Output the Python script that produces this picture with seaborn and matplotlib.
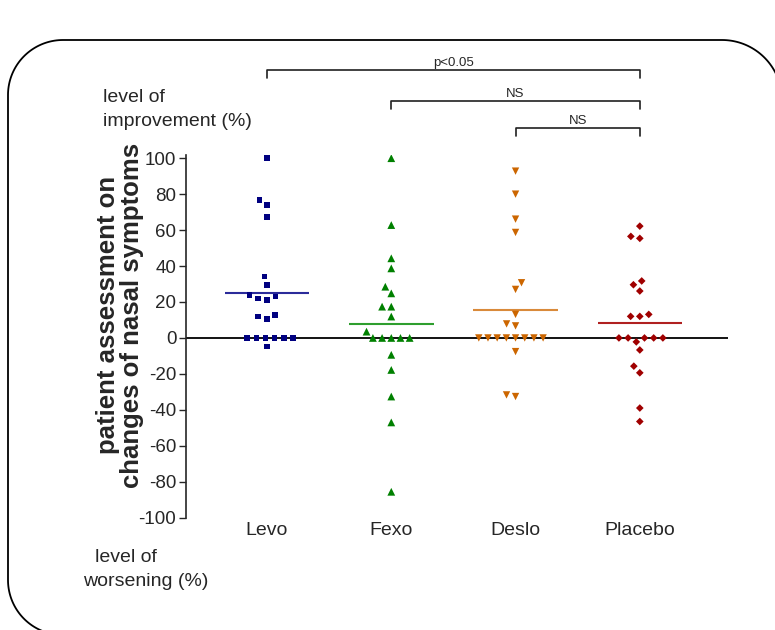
import numpy as np
import pandas as pd
import matplotlib
matplotlib.use("Agg")
import matplotlib.pyplot as plt
import seaborn as sns
from matplotlib.lines import Line2D

# Patient-rated change in nasal symptoms (%) for each treatment arm
groups = ["Levo", "Fexo", "Deslo", "Placebo"]
levo = [100, 76.7, 73.9, 67.4, 34.1, 29.4, 23.0, 21.1, 22.0, 23.9,
        11.9, 10.6, 12.8, 0, 0, 0, 0, 0, 0, -4.8]
fexo = [100, 62.8, 44.3, 38.7, 28.5, 24.8, 17.4, 17.4, 11.9, 3.5,
        0, 0, 0, 0, 0, -9.4, -17.8, -32.6, -47.0, -85.6]
deslo = [92.8, 80.0, 66.1, 58.7, 30.7, 27.0, 13.1, 7.8, 6.7, 0,
         0, 0, 0, 0, 0, 0, 0, -7.6, -32.6, -31.7]
placebo = [62.2, 55.4, 56.5, 31.7, 29.6, 26.1, 12.0, 12.0, 13.1, 0,
           0, 0, 0, 0, -2.2, -6.7, -15.7, -19.4, -39.0, -46.5]
values = [levo, fexo, deslo, placebo]

# Pairwise comparisons shown above the plot: (from, to, label)
comparisons = [("Levo", "Placebo", "p<0.05"),
               ("Fexo", "Placebo", "NS"),
               ("Deslo", "Placebo", "NS")]
y_ticks = list(range(-100, 101, 20))

point_colors = ["#000080", "#008000", "#CC6600", "#A00000"]
mean_colors = ["#2B2B9A", "#2E9E2E", "#D98A3A", "#B02020"]
markers = ["s", "^", "v", "D"]
marker_pts = [4.0, 5.6, 5.3, 3.9]
swarm_spacing = 6.3  # pt between neighbouring points in a swarm row

sns.set_style("ticks")
plt.rcParams["font.family"] = ["Liberation Sans", "DejaVu Sans"]
plt.rcParams["axes.unicode_minus"] = False

df = pd.DataFrame({
    "group": np.repeat(groups, [len(v) for v in values]),
    "change": np.concatenate(values),
})

fig = plt.figure(figsize=(7.75, 6.3), dpi=100)
ax = fig.add_axes([0.24, 0.1783, 0.6994, 0.5763])

for g, m, c, ms in zip(groups, markers, point_colors, marker_pts):
    sns.swarmplot(data=df[df["group"] == g], x="group", y="change",
                  order=groups, marker=m, color=c, size=ms,
                  linewidth=swarm_spacing - ms, edgecolor="none",
                  ax=ax, zorder=4)

# Group means
for i, (g, c) in enumerate(zip(groups, mean_colors)):
    mean = df.loc[df["group"] == g, "change"].mean()
    ax.hlines(mean, i - 0.34, i + 0.34, color=c, lw=1.5, zorder=3)

ax.axhline(0, color="black", lw=1.3, zorder=2)

ax.set_xlim(-0.652, 3.71)
ax.set_ylim(-100, 102)
ax.set_yticks(y_ticks)
ax.set_xlabel("")
ax.set_ylabel("")
for s in ["top", "right", "bottom"]:
    ax.spines[s].set_visible(False)
ax.spines["left"].set_linewidth(1.2)
ax.tick_params(axis="y", length=5, width=1.0, pad=2, labelsize=13.5)
ax.tick_params(axis="x", length=0, pad=3, labelsize=14)
ax.patch.set_alpha(0)

# Comparison brackets above the plot area
bracket_heights = [149, 132, 117]
for (a, b, label), h in zip(comparisons, bracket_heights):
    x1, x2 = groups.index(a), groups.index(b)
    ax.plot([x1, x1, x2, x2], [h - 4.5, h, h, h - 4.5], color="#202020",
            lw=1.2, clip_on=False)
    ax.text((x1 + x2) / 2, h + 0.5, label, ha="center", va="bottom",
            fontsize=9.5, clip_on=False)

fig.text(120 / 775, 1 - 315 / 630,
         "patient assessment on\nchanges of nasal symptoms",
         rotation=90, ha="center", va="center", fontsize=18.5,
         fontweight="bold", multialignment="center", linespacing=1.0)

fig.text(103 / 775, 1 - 97 / 630, "level of", ha="left", va="center", fontsize=14)
fig.text(103 / 775, 1 - 122 / 630, "improvement (%)", ha="left", va="center", fontsize=14)
fig.text(95 / 775, 1 - 557 / 630, "level of", ha="left", va="center", fontsize=14)
fig.text(83 / 775, 1 - 581 / 630, "worsening (%)", ha="left", va="center", fontsize=14)


# Rounded frame (pixel coordinates, y measured from the top edge)
def arc(cx, cy, r, a0, a1, n=40):
    t = np.radians(np.linspace(a0, a1, n))
    return cx + r * np.cos(t), cy - r * np.sin(t)


parts = [
    (np.array([300.0]), np.array([635.0])),
    arc(63, 580, 55, 270, 180),
    arc(63, 95, 55, 180, 90),
    arc(722, 100, 60, 90, 0),
    (np.array([782.0]), np.array([700.0])),
]
fx = np.concatenate([p[0] for p in parts])
fy = np.concatenate([p[1] for p in parts])
fig.add_artist(Line2D(fx / 100, (630 - fy) / 100, transform=fig.dpi_scale_trans,
                      color="black", lw=1.3, solid_joinstyle="round"))

fig.savefig("out.png", dpi=100)
